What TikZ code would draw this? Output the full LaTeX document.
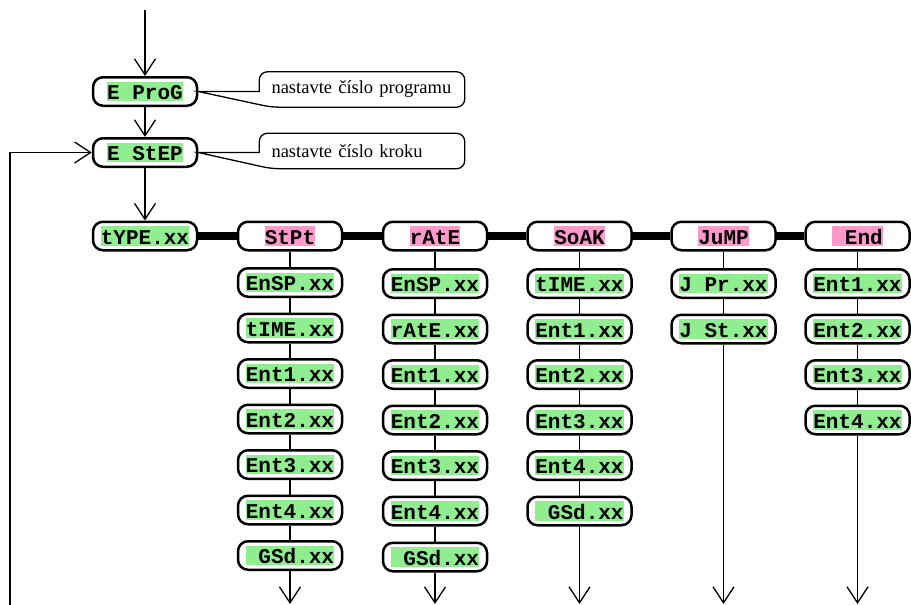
\documentclass[tikz,border=0pt]{standalone}
\usepackage{fontspec}
\setmainfont{Liberation Serif}
\setmonofont{Liberation Mono}
\usetikzlibrary{arrows.meta}
\definecolor{keygreen}{HTML}{90EE90}
\definecolor{keypink}{HTML}{FF99CC}
\newcommand{\markgreen}[1]{{\fboxsep=0pt\colorbox{keygreen}{\rule[-1.5pt]{0pt}{19.5pt}#1}}}
\newcommand{\markpink}[1]{{\fboxsep=0pt\colorbox{keypink}{\rule[-1.5pt]{0pt}{19.5pt}#1}}}
\begin{document}
\begin{tikzpicture}[x=1pt,y=-1pt,
    key/.style={draw,line width=2.5pt,rounded corners=10pt,fill=white,
      minimum width=104pt,minimum height=28.5pt,inner sep=0pt,
      font=\fontsize{21}{21}\selectfont\ttfamily\bfseries},
    note/.style={inner xsep=12pt,inner ysep=0pt,text width=181pt,align=left,
      minimum height=35pt,font=\fontsize{18.5}{20}\selectfont},
    link/.style={line width=1.3pt},
    bar/.style={line width=8.5pt},
    >={Straight Barb[length=16pt,width=21pt]}]
  \useasboundingbox (0,0) rectangle (911,605);
  \coordinate (in) at (145,10);
  \coordinate (back) at (10,605);
  \coordinate (stptout) at (290,604);
  \coordinate (rateout) at (435,604);
  \coordinate (soakout) at (579.5,604);
  \coordinate (jumpout) at (723.5,604);
  \coordinate (endout) at (857.5,604);
  \draw
    (145,91.5) node[key] (prog){\markgreen{E ProG}}
    (145,152.5) node[key] (step){\markgreen{E StEP}}
    (145,236) node[key] (type){\markgreen{tYPE.xx}}
    (290,236) node[key] (stpt){\markpink{StPt}}
    (435,236) node[key] (rate){\markpink{rAtE}}
    (579.5,236) node[key] (soak){\markpink{SoAK}}
    (723.5,236) node[key] (jump){\markpink{JuMP}}
    (857.5,236) node[key] (end){\markpink{~End}}
    (290,282.5) node[key] (stpt1){\markgreen{EnSP.xx}}
    (290,328) node[key] (stpt2){\markgreen{tIME.xx}}
    (290,373.5) node[key] (stpt3){\markgreen{Ent1.xx}}
    (290,419) node[key] (stpt4){\markgreen{Ent2.xx}}
    (290,464.5) node[key] (stpt5){\markgreen{Ent3.xx}}
    (290,510) node[key] (stpt6){\markgreen{Ent4.xx}}
    (290,555.5) node[key] (stpt7){\markgreen{~GSd.xx}}
    (435,283.5) node[key] (rate1){\markgreen{EnSP.xx}}
    (435,329) node[key] (rate2){\markgreen{rAtE.xx}}
    (435,374.5) node[key] (rate3){\markgreen{Ent1.xx}}
    (435,420) node[key] (rate4){\markgreen{Ent2.xx}}
    (435,465.5) node[key] (rate5){\markgreen{Ent3.xx}}
    (435,511) node[key] (rate6){\markgreen{Ent4.xx}}
    (435,557) node[key] (rate7){\markgreen{~GSd.xx}}
    (579.5,283.5) node[key] (soak1){\markgreen{tIME.xx}}
    (579.5,329) node[key] (soak2){\markgreen{Ent1.xx}}
    (579.5,374.5) node[key] (soak3){\markgreen{Ent2.xx}}
    (579.5,420) node[key] (soak4){\markgreen{Ent3.xx}}
    (579.5,465.5) node[key] (soak5){\markgreen{Ent4.xx}}
    (579.5,511) node[key] (soak6){\markgreen{~GSd.xx}}
    (723.5,283.5) node[key] (jump1){\markgreen{J Pr.xx}}
    (723.5,329) node[key] (jump2){\markgreen{J St.xx}}
    (857.5,283.5) node[key] (end1){\markgreen{Ent1.xx}}
    (857.5,329) node[key] (end2){\markgreen{Ent2.xx}}
    (857.5,374.5) node[key] (end3){\markgreen{Ent3.xx}}
    (857.5,420) node[key] (end4){\markgreen{Ent4.xx}}
    (362,89.5) node[note] (noteprog){nastavte číslo programu}
    (362,151) node[note] (notestep){nastavte číslo kroku};
  % callouts
  \draw[link] (prog.east) -- (noteprog.west |- prog.east) [rounded corners=8pt]
    |- (noteprog.north east) |- ([xshift=12pt]noteprog.south west) [sharp corners] -- cycle;
  \draw[link] (step.east) -- (notestep.west |- step.east) [rounded corners=8pt]
    |- (notestep.north east) |- ([xshift=12pt]notestep.south west) [sharp corners] -- cycle;
  \begin{scope}[bar]
    \draw (type) to (stpt);
    \draw (stpt) to (rate);
    \draw (rate) to (soak);
    \draw (soak) to (jump);
    \draw (jump) to (end);
  \end{scope}
  \begin{scope}[link]
    \draw (stpt) to (stpt1);
    \draw (stpt1) to (stpt2);
    \draw (stpt2) to (stpt3);
    \draw (stpt3) to (stpt4);
    \draw (stpt4) to (stpt5);
    \draw (stpt5) to (stpt6);
    \draw (stpt6) to (stpt7);
    \draw (rate) to (rate1);
    \draw (rate1) to (rate2);
    \draw (rate2) to (rate3);
    \draw (rate3) to (rate4);
    \draw (rate4) to (rate5);
    \draw (rate5) to (rate6);
    \draw (rate6) to (rate7);
    \draw (soak) to (soak1);
    \draw (soak1) to (soak2);
    \draw (soak2) to (soak3);
    \draw (soak3) to (soak4);
    \draw (soak4) to (soak5);
    \draw (soak5) to (soak6);
    \draw (jump) to (jump1);
    \draw (jump1) to (jump2);
    \draw (end) to (end1);
    \draw (end1) to (end2);
    \draw (end2) to (end3);
    \draw (end3) to (end4);
  \end{scope}
  \begin{scope}[link,->]
    \draw (in) to (prog);
    \draw (prog) to (step);
    \draw (step) to (type);
    \draw (back) |- (step);
    \draw (stpt7) to (stptout);
    \draw (rate7) to (rateout);
    \draw (soak6) to (soakout);
    \draw (jump2) to (jumpout);
    \draw (end4) to (endout);
  \end{scope}
\end{tikzpicture}
\end{document}
